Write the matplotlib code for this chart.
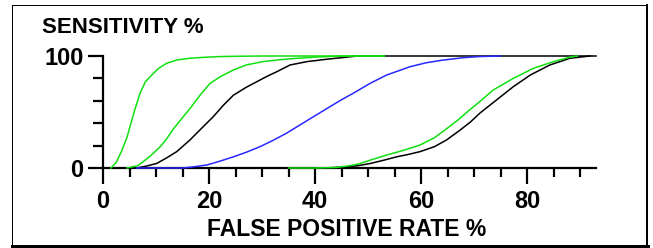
import matplotlib
matplotlib.use("Agg")
import matplotlib.pyplot as plt
from matplotlib.lines import Line2D

plt.rcParams['font.family'] = ['Liberation Sans', 'DejaVu Sans']

# ---- data (false positive rate %, sensitivity %) ----
green1_x = [1.5, 2.5, 3.5, 4.5, 5.1, 6.0, 7.0, 8.0, 9.2, 10.5, 12.0, 14.0, 16.4, 19, 22, 26, 30, 40, 53]
green1_y = [0, 5, 15, 27, 37, 52, 67, 77, 83, 89, 93.5, 96.5, 98, 98.8, 99.5, 99.8, 100, 100, 100]

green2_x = [4.5, 6.5, 7.6, 9.0, 10.8, 12, 13.3, 15, 16.4, 18.3, 20.2, 22.3, 24.6, 27, 30.2, 33, 35.3, 40, 45, 53]
green2_y = [0, 2, 5.7, 11, 19, 26, 35, 45, 53, 65, 75.6, 82, 87.5, 92, 95, 96.5, 97.5, 99, 100, 100]

black1_x = [6.3, 8, 10.1, 12, 13.9, 16.4, 18.5, 20.8, 22.7, 24.6, 27, 29, 31, 32.8, 35.3, 38.5, 42, 45, 48, 60, 93]
black1_y = [0, 1.5, 4, 9, 14.6, 25, 35, 45.8, 56, 65, 72, 77, 82, 86, 92, 95, 97, 98.5, 100, 100, 100]

blue_x = [6.3, 10, 15, 17, 19.6, 22, 24.6, 27, 29.6, 32, 34.6, 37, 39.7, 42.8, 45, 47.2, 50.4, 53.5, 57.9, 61, 64.2, 68, 71, 75]
blue_y = [0, 0, 0, 1, 2.7, 6, 10, 14, 19, 24.5, 31, 38, 45.8, 54.7, 61, 66.7, 75.6, 83, 90.4, 94, 96.4, 98.5, 99.5, 100]

green3_x = [35, 40, 44, 46.5, 48.5, 50.4, 53.5, 56.5, 59.8, 62.5, 64.8, 67, 69.2, 71.5, 73.6, 77.4, 81.2, 85, 88.1, 89.5]
green3_y = [0, 0, 0.5, 2, 4, 7, 11.6, 15.5, 20.5, 27, 35, 43, 52, 61, 69.6, 80, 89, 95, 99, 100]

black2_x = [37, 42, 46, 48, 50.4, 53, 55.4, 57.5, 59.8, 62.5, 64.8, 67.4, 69.3, 71.1, 74.3, 77.4, 80.6, 84.3, 88.1, 91.9]
black2_y = [0, 0, 1, 2, 4, 7, 10, 12, 14.6, 19, 25, 34, 41, 49, 61, 72.6, 83, 92, 98, 100]

x_ticks_major = [0, 20, 40, 60, 80]
x_ticks_minor = list(range(5, 95, 5))
y_ticks_major = [0, 100]
y_ticks_minor = [20, 40, 60, 80]

title_text = "SENSITIVITY %"
xlabel_text = "FALSE POSITIVE RATE %"

GREEN = '#10e010'
BLUE = '#2828ff'
BLACK = '#000000'

W, H = 653, 248
fig = plt.figure(figsize=(W / 100, H / 100), dpi=100)

ax = fig.add_axes([103 / W, (H - 168) / H, (596 - 103) / W, 112 / H])
ax.set_xlim(0, 93)
ax.set_ylim(0, 100)

lw = 1.1
ax.plot(black1_x, black1_y, color=BLACK, lw=lw, zorder=3, clip_on=False)
ax.plot(black2_x, black2_y, color=BLACK, lw=lw, zorder=3, clip_on=False)
ax.plot(green1_x, green1_y, color=GREEN, lw=lw, zorder=4, clip_on=False)
ax.plot(green2_x, green2_y, color=GREEN, lw=lw, zorder=4, clip_on=False)
ax.plot(green3_x, green3_y, color=GREEN, lw=lw, zorder=4, clip_on=False)
ax.plot(blue_x, blue_y, color=BLUE, lw=lw, zorder=4, clip_on=False)

for s in ['top', 'right']:
    ax.spines[s].set_visible(False)
for s in ['left', 'bottom']:
    ax.spines[s].set_linewidth(1.6)
    ax.spines[s].set_zorder(2)

ax.set_xticks(x_ticks_major)
ax.set_xticks([t for t in x_ticks_minor if t not in x_ticks_major], minor=True)
ax.set_yticks(y_ticks_major)
ax.set_yticks(y_ticks_minor, minor=True)
ax.set_xticklabels([str(t) for t in x_ticks_major])
ax.set_yticklabels([str(t) for t in y_ticks_major])

ax.tick_params(axis='x', which='major', direction='out', length=11.5, width=1.6, pad=4,
               labelsize=17)
ax.tick_params(axis='x', which='minor', direction='out', length=6.5, width=1.6)
ax.tick_params(axis='y', which='major', direction='out', length=11, width=1.6, pad=3,
               labelsize=17)
ax.tick_params(axis='y', which='minor', direction='out', length=7, width=1.6)
for lab in ax.get_xticklabels() + ax.get_yticklabels():
    lab.set_fontweight('bold')

fig.text(42 / W, (H - 33) / H, title_text, fontsize=16, fontweight='bold',
         ha='left', va='baseline')
fig.text(347 / W, (H - 236) / H, xlabel_text, fontsize=16.5, fontweight='bold',
         ha='center', va='baseline')

# outer frame with shadow
def px(x, y):
    return x / W, (H - y) / H

for (x0, y0, x1, y1, w) in [(12, 5, 647, 5, 1.0), (12, 5, 12, 244, 1.0),
                            (12, 245.5, 648, 245.5, 3.0), (647, 5, 647, 247, 2.0)]:
    a, b = px(x0, y0)
    c, d = px(x1, y1)
    fig.add_artist(Line2D([a, c], [b, d], color='black', lw=w * 0.72,
                          transform=fig.transFigure))

fig.savefig('out.png', dpi=100)
